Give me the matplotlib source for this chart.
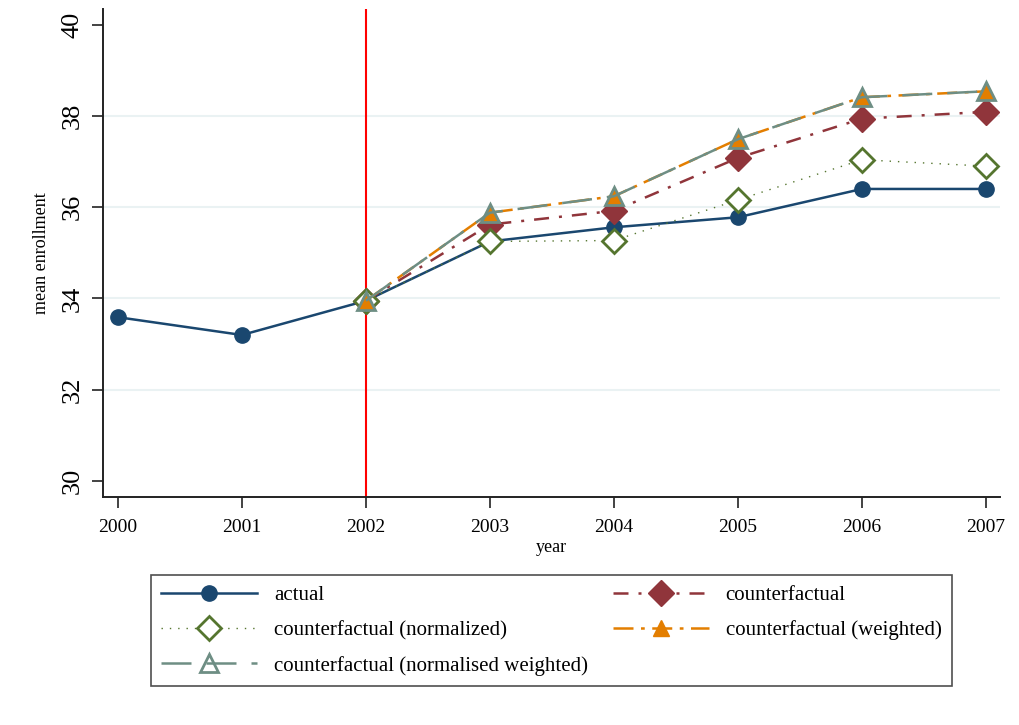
import numpy as np
import matplotlib
matplotlib.use("Agg")
import matplotlib.pyplot as plt

plt.rcParams['font.family'] = ['Liberation Serif', 'DejaVu Serif']

years = [2000, 2001, 2002, 2003, 2004, 2005, 2006, 2007]
cf_years = [2002, 2003, 2004, 2005, 2006, 2007]

actual = [33.59, 33.20, 33.95, 35.25, 35.56, 35.78, 36.40, 36.40]
counterfactual = [33.95, 35.62, 35.92, 37.08, 37.94, 38.09]
cf_normalized = [33.95, 35.25, 35.27, 36.16, 37.04, 36.90]
cf_weighted = [33.95, 35.88, 36.24, 37.49, 38.41, 38.54]
cf_norm_weighted = [33.95, 35.88, 36.24, 37.49, 38.41, 38.54]

event_year = 2002
yticks = [30, 32, 34, 36, 38, 40]

navy = "#1a476f"
maroon = "#90353b"
green = "#55752f"
orange = "#e37e00"
sage = "#6e8e84"

fig = plt.figure(figsize=(10.2, 7.25), dpi=100)
ax = fig.add_axes([0.101, 0.3145, 0.879, 0.6735])

for g in yticks[1:-1]:
    ax.axhline(g, color="#eaf2f3", lw=1.5, zorder=0)

ax.axvline(event_year, color="#ff0000", lw=1.5, zorder=1)

h_act, = ax.plot(years, actual, color=navy, lw=1.8, marker="o",
                 ms=11, mfc=navy, mec=navy, label="actual", zorder=3)
h_cf, = ax.plot(cf_years, counterfactual, color=maroon, lw=1.8,
                dashes=(6, 4, 1.2, 4), marker="D", ms=13, mfc=maroon,
                mec=maroon, label="counterfactual", zorder=3)
h_norm, = ax.plot(cf_years, cf_normalized, color=green, lw=1.0,
                  dashes=(1, 5), marker="D", ms=12, mfc="white", mew=2,
                  mec=green, label="counterfactual (normalized)", zorder=3)
h_w, = ax.plot(cf_years, cf_weighted, color=orange, lw=1.8,
               dashes=(8, 3, 1.5, 3), marker="^", ms=12, mfc=orange,
               mec=orange, label="counterfactual (weighted)", zorder=3)
h_nw, = ax.plot(cf_years, cf_norm_weighted, color=sage, lw=1.8,
                dashes=(12, 6), marker="^", ms=13, mfc="none", mew=2,
                mec=sage, label="counterfactual (normalised weighted)",
                zorder=3)

ax.set_xlim(1999.88, 2007.11)
ax.set_ylim(29.65, 40.35)
ax.set_xticks(years)
ax.set_xticklabels([str(y) for y in years], fontsize=14)
ax.set_yticks(yticks)
ax.set_yticklabels([str(v) for v in yticks], fontsize=19, rotation=90,
                   va="center")

for side in ("top", "right"):
    ax.spines[side].set_visible(False)
for side in ("left", "bottom"):
    ax.spines[side].set_color("#222222")
    ax.spines[side].set_linewidth(1.4)
ax.tick_params(axis="both", direction="out", length=8, width=1.2,
               color="#222222")
ax.tick_params(axis="y", pad=6)
ax.tick_params(axis="x", pad=8)

ax.set_xlabel("year", fontsize=13, labelpad=2)
ax.set_ylabel("mean enrollment", fontsize=13, labelpad=8)

# legend reads row by row: reorder handles for the column-major fill
handles = [h_act, h_norm, h_nw, h_cf, h_w]
labels = [h.get_label() for h in handles]
leg = fig.legend(handles, labels, ncol=2, loc="center",
                 bbox_to_anchor=(151 / 1020, 1 - 690 / 725, 801 / 1020, 119 / 725),
                 mode="expand", fontsize=15, frameon=True, fancybox=False,
                 edgecolor="#222222", handlelength=4.6, borderpad=0.5,
                 labelspacing=0.75, columnspacing=2.0, handletextpad=0.8,
                 borderaxespad=0)
leg.get_frame().set_linewidth(1.2)

fig.savefig("out.png", dpi=100)
